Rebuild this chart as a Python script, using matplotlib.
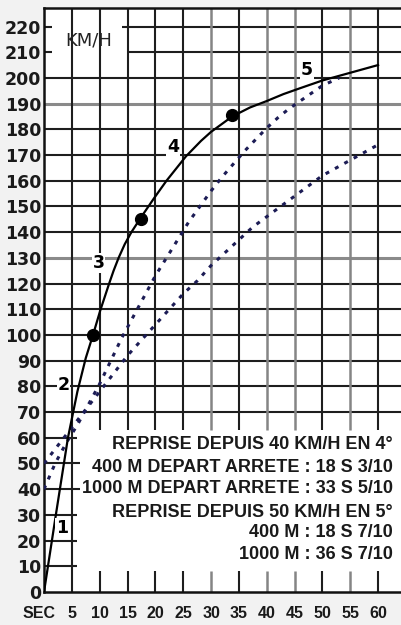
"""
Courbe d'acceleration : vitesse (km/h) en fonction du temps (s)
"""

import matplotlib
matplotlib.use('Agg')
import matplotlib.pyplot as plt

# depart arrete (trait plein)
t_depart = [0, 2.2, 4.3, 6, 7.5, 8.8, 10.1, 11.7, 12.5, 13.4, 14.5, 15.7, 17.5,
            19.7, 22, 25.5, 28.2, 30, 33.8, 37, 40, 43, 46, 50, 55, 60]
v_depart = [0, 31, 60, 78, 91, 100, 109.5, 120, 125, 130, 135.3, 140, 146,
            153, 160, 169.5, 175.5, 179, 185, 188.5, 191, 193.7, 196, 199, 202, 205]

# passages de rapports (points)
t_points = [8.8, 17.5, 33.8]
v_points = [100, 145, 185.6]

# reprise depuis 40 km/h en 4e (pointilles)
t_rep4 = [0, 2, 4, 6, 8, 10, 12, 14, 16, 18, 20, 22, 24, 26, 28, 30, 32, 34,
          36, 38, 40, 42, 44, 46, 48, 50, 53]
v_rep4 = [40, 50, 58, 65, 73, 81, 90, 99, 107, 115, 123, 130, 137, 144, 150,
          156, 161.5, 166.5, 171.5, 176, 180.5, 184.5, 188, 191, 194, 197, 200]

# reprise depuis 50 km/h en 5e (pointilles)
t_rep5 = [0, 2.5, 5, 7.5, 10, 12.5, 15, 17.5, 20, 22.5, 25, 27.5, 30, 32.5,
          35, 37.5, 40, 42.5, 45, 47.5, 50, 52.5, 55, 57.5, 60]
v_rep5 = [50, 57, 64, 71, 78, 85, 92, 98, 104, 110, 116, 121, 127, 132, 137,
          142, 146, 150, 154, 158, 162, 165, 168, 171, 174]

rapports = ['1', '2', '3', '4', '5']
rapports_pos = [(3.2, 25), (3.5, 80.5), (9.8, 128), (23.2, 173), (47.2, 203)]

infos = ['REPRISE DEPUIS 40 KM/H EN 4°',
         '400 M DEPART ARRETE : 18 S 3/10',
         '1000 M DEPART ARRETE : 33 S 5/10',
         'REPRISE DEPUIS 50 KM/H EN 5°',
         '400 M : 18 S 7/10',
         '1000 M : 36 S 7/10']
infos_v = [57.2, 48.6, 40.1, 31.1, 23, 14.4]

xmax, ymax = 64.3, 227.2

fig = plt.figure(figsize=(4.02, 6.25), dpi=100, facecolor='#f2f2f2')
ax = fig.add_axes([44/402, 33/625, 358/402, 584/625])
ax.set_facecolor('white')
ax.set_xlim(0, xmax)
ax.set_ylim(0, ymax)

# quadrillage (interrompu sous les textes)
for v in range(10, 230, 10):
    col = '#8a8a8a' if v in (130, 190) else '#1e1e1e'
    lw = 2.2 if v in (130, 190) else 1.5
    if v <= 60:
        segs = [(0, 6.5 if v in (40, 50) else 6)]
    elif v == 220:
        segs = [(0, 1.5), (14, xmax)]
    elif v == 210:
        segs = [(0, 1.5), (14.9, xmax)]
    else:
        segs = [(0, xmax)]
    for a, b in segs:
        ax.plot([a, b], [v, v], color=col, lw=lw, zorder=1, solid_capstyle='butt')

for t in range(5, 65, 5):
    col = '#858585' if t in (30, 40, 45, 55) else '#1e1e1e'
    lw = 1.8 if t in (30, 40, 45, 55) else 1.5
    segs = [(0, ymax)] if t == 5 else [(0, 8), (63, ymax)]
    for a, b in segs:
        ax.plot([t, t], [a, b], color=col, lw=lw, zorder=1, solid_capstyle='butt')

ax.plot(t_rep4, v_rep4, color='#1c1c55', lw=2.2, ls=(0, (1.3, 2.2)), zorder=3)
ax.plot(t_rep5, v_rep5, color='#1c1c55', lw=2.2, ls=(0, (1.3, 2.2)), zorder=3)
ax.plot(t_depart, v_depart, color='black', lw=1.6, zorder=4)
ax.plot(t_points, v_points, 'o', color='black', ms=8.5, zorder=5)

for lab, (x, y) in zip(rapports, rapports_pos):
    ax.text(x, y, lab, fontsize=12.5, fontweight='bold', ha='center', va='center',
            family='DejaVu Sans', zorder=6,
            bbox=dict(facecolor='white', edgecolor='none', pad=0.5))

ax.text(8.1, 214.4, 'KM/H', fontsize=13, ha='center', va='center', zorder=6,
        family='DejaVu Sans', color='#222222')

for s, v in zip(infos, infos_v):
    ax.text(62.7, v, s, fontsize=13, fontweight='bold', ha='right', va='center',
            family='Liberation Sans', color='#1a1a1a', zorder=6)

for side in ['left', 'top', 'bottom']:
    ax.spines[side].set_linewidth(1.8)
    ax.spines[side].set_color('#111111')
ax.spines['right'].set_visible(False)

ax.set_yticks(range(0, 230, 10))
ax.set_yticklabels([str(v) for v in range(0, 230, 10)], fontsize=12.5,
                   fontweight='bold', family='DejaVu Sans', color='#1a1a1a')
ax.set_xticks(range(5, 65, 5))
ax.set_xticklabels([str(t) for t in range(5, 65, 5)], fontsize=11.5,
                   fontweight='bold', family='Liberation Sans', color='#1a1a1a')
ax.tick_params(axis='y', length=0, pad=2)
ax.tick_params(axis='x', length=0, pad=10)
ax.text(-0.9, -8.4, 'SEC', fontsize=11.5, fontweight='bold', family='Liberation Sans',
        ha='center', va='center', color='#1a1a1a', clip_on=False)

fig.savefig('out.png', dpi=100, facecolor=fig.get_facecolor())
